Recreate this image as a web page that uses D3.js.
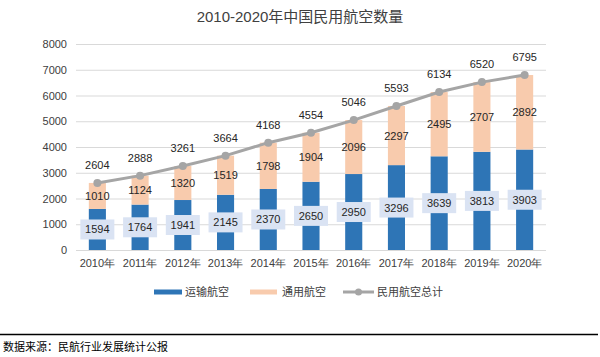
<!DOCTYPE html>
<html><head><meta charset="utf-8">
<script src="https://cdn.jsdelivr.net/npm/d3@7"></script>
<style>body{margin:0;background:#fff}svg{font-family:"Liberation Sans","Noto Sans CJK SC",sans-serif}</style>
</head><body><svg id="c" width="600" height="357"></svg>
<script>
const years = ["2010年","2011年","2012年","2013年","2014年","2015年","2016年","2017年","2018年","2019年","2020年"];
const transport = [1594,1764,1941,2145,2370,2650,2950,3296,3639,3813,3903];
const general = [1010,1124,1320,1519,1798,1904,2096,2297,2495,2707,2892];
const total = [2604,2888,3261,3664,4168,4554,5046,5593,6134,6520,6795];
const yTicks = [0,1000,2000,3000,4000,5000,6000,7000,8000];
const seriesNames = ["运输航空","通用航空","民用航空总计"];
const colors = ["#2e75b6","#f8cbad","#a5a5a5"];

const svg = d3.select("#c");
const x = d3.scaleBand().domain(years).range([76,546]).paddingInner(0.6).paddingOuter(0.3);
const y = d3.scaleLinear().domain([0,8000]).range([250,44]);

svg.append("text").attr("x",300).attr("y",22).attr("text-anchor","middle")
  .attr("font-size",15).attr("font-weight","normal").attr("fill","#404040").text("2010-2020年中国民用航空数量");

// grid
svg.append("g").selectAll("line").data(yTicks).join("line")
  .attr("x1",76).attr("x2",546).attr("y1",d=>y(d)+0.5).attr("y2",d=>y(d)+0.5)
  .attr("stroke","#d9d9d9").attr("stroke-width",1);

const yAxis = svg.append("g").attr("transform","translate(76,0)")
  .call(d3.axisLeft(y).tickValues(yTicks).tickFormat(d3.format("d")).tickSize(0).tickPadding(9));
yAxis.select(".domain").remove();
yAxis.selectAll("text").attr("font-size",11).attr("fill","#404040").attr("font-family",null);

const xAxis = svg.append("g").attr("transform","translate(0,250)")
  .call(d3.axisBottom(x).tickSize(0).tickPadding(9));
xAxis.select(".domain").remove();
xAxis.selectAll("text").attr("font-size",11).attr("fill","#404040").attr("font-family",null);

// bars
svg.append("g").selectAll("rect").data(years).join("rect")
  .attr("x",d=>x(d)).attr("width",x.bandwidth())
  .attr("y",(d,i)=>y(transport[i])).attr("height",(d,i)=>y(0)-y(transport[i]))
  .attr("fill",colors[0]);
svg.append("g").selectAll("rect").data(years).join("rect")
  .attr("x",d=>x(d)).attr("width",x.bandwidth())
  .attr("y",(d,i)=>y(transport[i]+general[i])).attr("height",(d,i)=>y(transport[i])-y(transport[i]+general[i]))
  .attr("fill",colors[1]);

// line
const cx = d=>x(d)+x.bandwidth()/2;
svg.append("path").datum(years)
  .attr("d",d3.line().x(d=>cx(d)).y((d,i)=>y(total[i])))
  .attr("fill","none").attr("stroke",colors[2]).attr("stroke-width",3);
svg.append("g").selectAll("circle").data(years).join("circle")
  .attr("cx",cx).attr("cy",(d,i)=>y(total[i])).attr("r",4).attr("fill",colors[2]);

// labels transport with box
const tl = svg.append("g");
years.forEach((d,i)=>{
  const yy = y(transport[i]/2);
  tl.append("rect").attr("x",cx(d)-17).attr("y",yy-10).attr("width",34).attr("height",20).attr("fill","#dae3f3");
  tl.append("text").attr("x",cx(d)).attr("y",yy+4).attr("text-anchor","middle")
    .attr("font-size",11).attr("fill","#262626").text(transport[i]);
});
svg.append("g").selectAll("text").data(years).join("text")
  .attr("x",cx).attr("y",(d,i)=>y(transport[i]+general[i]/2)+4).attr("text-anchor","middle")
  .attr("font-size",11).attr("fill","#262626").text((d,i)=>general[i]);
svg.append("g").selectAll("text").data(years).join("text")
  .attr("x",cx).attr("y",(d,i)=>y(total[i])-14).attr("text-anchor","middle")
  .attr("font-size",11).attr("fill","#262626").text((d,i)=>total[i]);

// legend
const lg = svg.append("g").attr("font-size",11).attr("fill","#404040");
lg.append("line").attr("x1",154).attr("x2",182).attr("y1",292).attr("y2",292).attr("stroke",colors[0]).attr("stroke-width",5);
lg.append("text").attr("x",185).attr("y",296).attr("fill","#404040").text(seriesNames[0]);
lg.append("line").attr("x1",250).attr("x2",277).attr("y1",292).attr("y2",292).attr("stroke",colors[1]).attr("stroke-width",5);
lg.append("text").attr("x",282).attr("y",296).attr("fill","#404040").text(seriesNames[1]);
lg.append("line").attr("x1",343).attr("x2",374).attr("y1",292).attr("y2",292).attr("stroke",colors[2]).attr("stroke-width",3);
lg.append("circle").attr("cx",358.5).attr("cy",292).attr("r",3.5).attr("fill",colors[2]);
lg.append("text").attr("x",377).attr("y",296).attr("fill","#404040").text(seriesNames[2]);

// footer
svg.append("line").attr("x1",0).attr("x2",598).attr("y1",334.5).attr("y2",334.5).attr("stroke","#000").attr("stroke-width",1.5);
svg.append("text").attr("x",3).attr("y",351).attr("font-size",11).attr("fill","#000").text("数据来源：民航行业发展统计公报");
</script></body></html>
